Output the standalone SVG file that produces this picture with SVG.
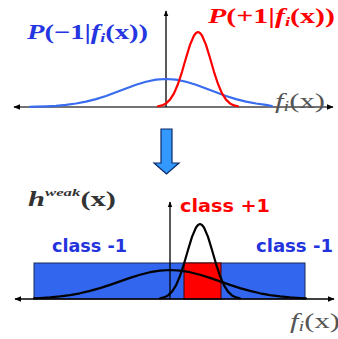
<svg xmlns="http://www.w3.org/2000/svg" width="338" height="339" viewBox="0 0 338 339">
<defs>
<style>
.ax{stroke:#444;stroke-width:1.3;fill:none}
.axk{stroke:#000;stroke-width:1.3;fill:none}
.crv{fill:none;stroke-width:2.2;stroke-linejoin:round;stroke-linecap:round}
.math{font-family:"Liberation Serif","DejaVu Serif",serif;font-weight:bold}
.lbl{font-family:"DejaVu Sans","Liberation Sans",sans-serif;font-weight:bold;font-size:17.5px}
.fx{font-family:"Liberation Serif","DejaVu Serif",serif;font-size:21px;fill:#555}
</style>
<marker id="ah" viewBox="0 0 10 10" refX="9" refY="5" markerWidth="6" markerHeight="6" orient="auto-start-reverse" markerUnits="userSpaceOnUse">
<path d="M0,1 L10,5 L0,9 z" fill="#000"/>
</marker>
<marker id="ah2" viewBox="0 0 10 10" refX="9" refY="5" markerWidth="7" markerHeight="7" orient="auto-start-reverse" markerUnits="userSpaceOnUse">
<path d="M0,1 L10,5 L0,9 z" fill="#000"/>
</marker>
</defs>
<rect width="338" height="339" fill="#fff"/>

<g id="connectors">
<line class="ax" x1="14" y1="107" x2="333" y2="107" marker-start="url(#ah2)" marker-end="url(#ah2)"/>
<line class="axk" x1="166" y1="107" x2="166" y2="11" marker-end="url(#ah)"/>
</g>

<g id="top-curves">
<polyline id="neg-dist" class="crv" stroke="#3a6cf0" points="30,106.8 36,106.6 46,106.3 56,105.8 66,104.9 76,103.5 86,101.6 96,99.1 106,95.95 116,92.3 126,88.5 136,84.8 146,81.75 156,79.7 166,79 176,79.7 186,81.75 196,84.8 206,88.5 216,92.3 226,95.95 236,99.1 246,101.6 256,103.5 266,104.9 272,106"/>
<polyline id="pos-dist" class="crv" stroke="#f00" points="158,106.3 162,105.4 166,103.4 170,99.6 174,93.4 178,84 182,71.8 186,58 190,44.9 194,35.5 196,33 198,32 200,33 202,35.5 206,44.9 210,58 214,71.8 218,84 222,93.4 226,99.6 230,103.4 234,105.4 238,106.3"/>
</g>

<g id="label-neg">
<text class="math" x="27" y="39" font-size="21" fill="#2536e0" textLength="121" lengthAdjust="spacingAndGlyphs"><tspan font-style="italic">P</tspan>(−1|<tspan font-style="italic">f</tspan><tspan font-style="italic" font-size="13" dy="3">i</tspan><tspan dy="-3">(x))</tspan></text>
</g>
<g id="label-pos">
<text class="math" x="208" y="23" font-size="21" fill="#f00" textLength="127" lengthAdjust="spacingAndGlyphs"><tspan font-style="italic">P</tspan>(+1|<tspan font-style="italic">f</tspan><tspan font-style="italic" font-size="13" dy="3">i</tspan><tspan dy="-3">(x))</tspan></text>
</g>
<g id="label-fx-top">
<text class="fx" x="275" y="108" textLength="50" lengthAdjust="spacingAndGlyphs"><tspan font-style="italic">f</tspan><tspan font-style="italic" font-size="14" dy="3">i</tspan><tspan dy="-3">(x)</tspan></text>
</g>

<g id="down-arrow">
<path d="M161,129 H172 V163 H179 L166.5,174 L154,163 H161 Z" fill="#3399ff" stroke="#0b2a66" stroke-width="1.2" stroke-linejoin="miter"/>
</g>

<g id="label-hweak">
<text x="28" y="206" font-family="'Liberation Serif','DejaVu Serif',serif" font-weight="bold" fill="#333" font-size="20" textLength="88" lengthAdjust="spacingAndGlyphs"><tspan font-style="italic">h</tspan><tspan font-style="italic" font-size="11" dy="-10">weak</tspan><tspan dy="10">(x)</tspan></text>
</g>

<g id="class-neg-left-box">
<rect x="34" y="263" width="271" height="36" fill="#3366ee" stroke="#1a2a55" stroke-width="1"/>
</g>
<g id="class-pos-box">
<rect x="184" y="263" width="37" height="36" fill="#ff0000" stroke="#440000" stroke-width="1"/>
</g>

<g id="connectors-bottom">
<line class="axk" x1="15" y1="299" x2="334" y2="299" marker-start="url(#ah2)" marker-end="url(#ah2)"/>
<line class="axk" x1="170" y1="299" x2="170" y2="202" marker-end="url(#ah)"/>
</g>

<g id="bottom-curves">
<polyline class="crv" stroke="#000" points="34,298.3 40,298 50,297.4 60,296.4 70,295.1 80,293.3 90,290.9 100,288.1 110,284.9 120,281.4 130,277.9 140,274.8 150,272.2 160,270.6 170,270 180,270.6 190,272.2 200,274.8 210,277.9 220,281.4 230,284.9 240,288.1 250,290.9 260,293.3 270,295.1 280,296.4 290,297.4 300,298 306,298.3"/>
<polyline class="crv" stroke="#000" points="160,298.3 164,297.4 168,295.4 172,291.6 176,285.4 180,276 184,263.8 188,250 192,236.9 196,227.5 198,225 200,224 202,225 204,227.5 208,236.9 212,250 216,263.8 220,276 224,285.4 228,291.6 232,295.4 236,297.4 240,298.3"/>
</g>

<g id="label-class-pos">
<text class="lbl" x="180" y="212" fill="#f00" textLength="90" lengthAdjust="spacingAndGlyphs">class +1</text>
</g>
<g id="label-class-neg-left">
<text class="lbl" x="52" y="252" fill="#2233dd" textLength="75" lengthAdjust="spacingAndGlyphs">class -1</text>
</g>
<g id="label-class-neg-right">
<text class="lbl" x="256" y="252" fill="#2233dd" textLength="77" lengthAdjust="spacingAndGlyphs">class -1</text>
</g>
<g id="label-fx-bottom">
<text class="fx" x="290" y="328" textLength="50" lengthAdjust="spacingAndGlyphs"><tspan font-style="italic">f</tspan><tspan font-style="italic" font-size="14" dy="3">i</tspan><tspan dy="-3">(x)</tspan></text>
</g>
</svg>
